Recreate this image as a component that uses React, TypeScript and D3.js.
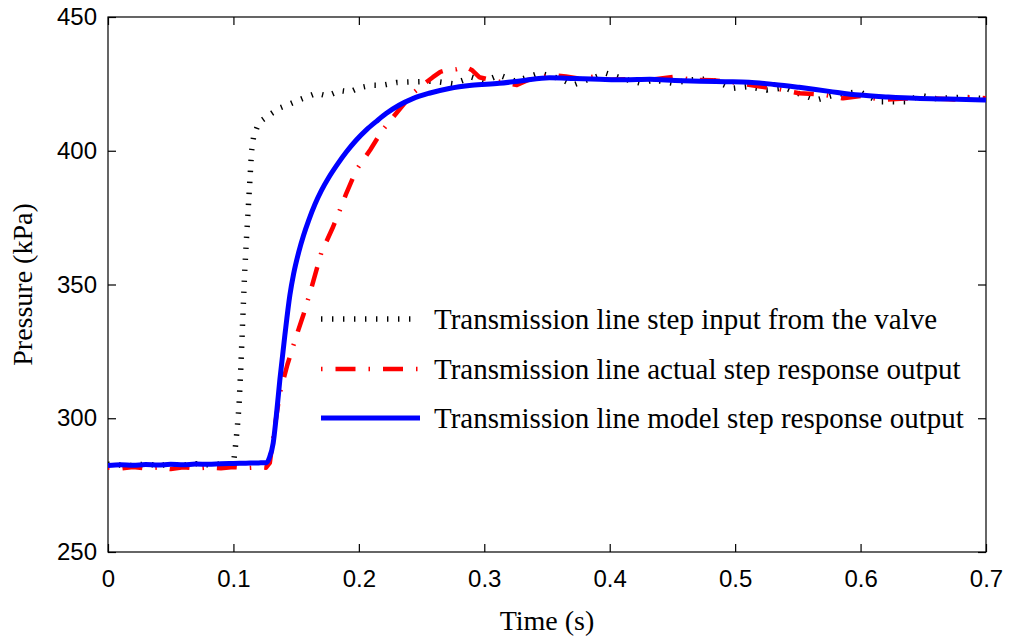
import React, { useEffect, useRef } from 'react';
import * as d3 from 'd3';

// step input from the valve (black dotted)
const inputTime = [
  0, 0.01, 0.02, 0.03, 0.04, 0.05, 0.06, 0.07, 0.08, 0.09, 0.1,
  0.1015, 0.103, 0.1045, 0.106, 0.1075, 0.109, 0.1105, 0.112, 0.1135, 0.1145,
  0.116, 0.119, 0.123, 0.129, 0.137, 0.145, 0.155, 0.166, 0.175, 0.185,
  0.193, 0.2, 0.21, 0.219, 0.23, 0.246, 0.26, 0.275, 0.29, 0.3,
  0.312, 0.325, 0.344, 0.36, 0.371, 0.385, 0.397, 0.41, 0.425, 0.435,
  0.45, 0.465, 0.48, 0.498, 0.51, 0.525, 0.54, 0.55, 0.565, 0.58,
  0.599, 0.615, 0.637, 0.647, 0.66, 0.68, 0.7,
];
const inputPressure = [
  282.8, 282.5, 282.3, 282.9, 282.4, 282.7, 282.5, 283, 282.6, 282.9, 283,
  289, 296, 305, 320, 338, 355, 368, 380, 392, 400,
  405, 409, 411.5, 413.5, 416, 417.5, 419.5, 421.5, 420.5, 422.5,
  422, 423.5, 424.5, 424.5, 425.5, 425.8, 426, 425, 427.5, 426,
  428.3, 426, 429, 427, 424.6, 427, 429, 427, 425.2, 426.5,
  425.2, 426.5, 426.8, 423.3, 424, 422.7, 423.5, 421.5, 419, 421,
  422.1, 418.3, 418.3, 420.8, 419.5, 420, 419.5,
];

// actual step response output (red dash-dot)
const actualTime = [
  0, 0.01, 0.02, 0.03, 0.04, 0.05, 0.06, 0.07, 0.08, 0.09, 0.1, 0.11, 0.12, 0.126,
  0.129, 0.1315, 0.134, 0.137, 0.143, 0.15, 0.156, 0.161, 0.17, 0.1795, 0.185,
  0.19, 0.198, 0.209, 0.219, 0.23, 0.243, 0.252, 0.259, 0.265, 0.27,
  0.278, 0.285, 0.29, 0.296, 0.305, 0.315, 0.326, 0.335, 0.345, 0.355,
  0.365, 0.375, 0.387, 0.4, 0.415, 0.43, 0.453, 0.465, 0.482, 0.5,
  0.52, 0.535, 0.551, 0.57, 0.586, 0.6, 0.618, 0.635, 0.657, 0.675, 0.689, 0.7,
];
const actualPressure = [
  281.5, 281.2, 281.8, 281.3, 281.6, 281.0, 281.7, 281.2, 281.6, 281.3, 281.8, 281.4, 281.7, 281.5,
  283.3, 292, 300, 309.4, 320, 330.5, 339, 346.8, 361.8, 371.6, 378,
  384.1, 392.8, 400.3, 407.8, 414.1, 421.5, 425, 427.5, 429.5, 430.2,
  430.5, 431.4, 430.2, 427.5, 426.5, 425.5, 424.6, 426.5, 427.5, 428.3,
  427.8, 427, 427.7, 426.5, 426.8, 426.4, 427.7, 426.5, 426.4, 425.5,
  424, 423, 421.5, 421, 419.6, 420.5, 419, 419.5, 419.6, 419.2, 420.2, 419.6,
];

// model step response output (blue solid)
const modelTime = [
  0, 0.01, 0.02, 0.03, 0.04, 0.05, 0.06, 0.07, 0.08, 0.09, 0.1, 0.11, 0.12, 0.1265,
  0.1285, 0.1317, 0.134, 0.137, 0.141, 0.145, 0.148, 0.152, 0.156, 0.16, 0.165,
  0.17, 0.176, 0.183, 0.19, 0.198, 0.206, 0.214, 0.222, 0.232, 0.243,
  0.256, 0.272, 0.29, 0.312, 0.33, 0.352, 0.372, 0.392, 0.412, 0.432,
  0.452, 0.472, 0.492, 0.511, 0.531, 0.551, 0.575, 0.599, 0.622, 0.644,
  0.67, 0.7,
];
const modelPressure = [
  282.3, 282.6, 282.4, 282.7, 282.5, 282.8, 282.6, 282.9, 282.8, 283, 283.1, 283.2, 283.3, 283.4,
  285, 290.7, 300, 314.3, 331, 346, 354, 362, 368.5, 374, 380,
  385, 390, 395, 399.5, 404, 407.8, 411, 414, 417, 419.5,
  421.5, 423.3, 424.5, 425.2, 426.2, 427.3, 427, 426.7, 426.5, 426.7,
  426.3, 426, 425.8, 425.6, 424.8, 423.7, 422.2, 420.8, 420.1, 419.6,
  419.3, 419,
];

const xTicks = [0, 0.1, 0.2, 0.3, 0.4, 0.5, 0.6, 0.7];
const yTicks = [250, 300, 350, 400, 450];

const legendLabels = [
  'Transmission line step input from the valve',
  'Transmission line actual step response output',
  'Transmission line model step response output',
];

const App = () => {
  const ref = useRef<SVGSVGElement>(null);

  useEffect(() => {
    const width = 1011, height = 639;
    const margin = { top: 17, right: 25, bottom: 87, left: 108 };
    const innerW = width - margin.left - margin.right;
    const innerH = height - margin.top - margin.bottom;
    const sans = "'Liberation Sans', Arial, Helvetica, sans-serif";
    const serif = "'Liberation Serif', 'Times New Roman', serif";

    const svg = d3.select(ref.current);
    svg.selectAll('*').remove();

    const g = svg.append('g').attr('transform', `translate(${margin.left},${margin.top})`);

    const x = d3.scaleLinear().domain([0, 0.7]).range([0, innerW]);
    const y = d3.scaleLinear().domain([250, 450]).range([innerH, 0]);

    g.append('clipPath').attr('id', 'plot-clip')
      .append('rect').attr('width', innerW).attr('height', innerH);

    // axes, ticks pointing inward
    const styleAxis = (sel: any) => {
      sel.select('.domain').remove();
      sel.selectAll('.tick line').attr('stroke', '#000').attr('stroke-width', 1.2);
      sel.selectAll('.tick text').attr('fill', '#000')
        .style('font-family', sans).style('font-size', '24px');
    };

    g.append('g')
      .attr('transform', `translate(0,${innerH})`)
      .call(d3.axisBottom(x).tickValues(xTicks).tickSizeInner(-8).tickSizeOuter(0)
        .tickPadding(18).tickFormat((d: any) => d3.format('')(+d.toFixed(1))))
      .call(styleAxis);
    g.append('g')
      .call(d3.axisTop(x).tickValues(xTicks).tickSizeInner(-8).tickSizeOuter(0).tickFormat(() => ''))
      .call(styleAxis);
    g.append('g')
      .call(d3.axisLeft(y).tickValues(yTicks).tickSizeInner(-8).tickSizeOuter(0).tickPadding(11))
      .call(styleAxis);
    g.append('g')
      .attr('transform', `translate(${innerW},0)`)
      .call(d3.axisRight(y).tickValues(yTicks).tickSizeInner(-8).tickSizeOuter(0).tickFormat(() => ''))
      .call(styleAxis);

    g.append('rect')
      .attr('width', innerW).attr('height', innerH)
      .attr('fill', 'none').attr('stroke', '#000').attr('stroke-width', 1.2);

    const series = [
      { t: inputTime, p: inputPressure, color: '#000', width: 5.5, dash: '1.4 9.6', curve: d3.curveLinear },
      { t: actualTime, p: actualPressure, color: '#ff0000', width: 4.5, dash: '1.5 13 20 13', curve: d3.curveLinear },
      { t: modelTime, p: modelPressure, color: '#0000ff', width: 5, dash: null, curve: d3.curveMonotoneX },
    ];

    const plot = g.append('g').attr('clip-path', 'url(#plot-clip)');
    series.forEach(s => {
      const line = d3.line<[number, number]>()
        .curve(s.curve)
        .x(d => x(d[0]))
        .y(d => y(d[1]));
      plot.append('path')
        .datum(s.t.map((t, i) => [t, s.p[i]] as [number, number]))
        .attr('fill', 'none')
        .attr('stroke', s.color)
        .attr('stroke-width', s.width)
        .attr('stroke-dasharray', s.dash)
        .attr('stroke-linejoin', 'round')
        .attr('d', line);
    });

    // legend
    const legend = g.selectAll('.legend')
      .data(series)
      .enter()
      .append('g')
      .attr('class', 'legend')
      .attr('transform', (d, i) => `translate(0,${[302, 352, 401][i]})`);

    legend.append('line')
      .attr('x1', 213).attr('x2', 312)
      .attr('stroke', d => d.color)
      .attr('stroke-width', d => d.width)
      .attr('stroke-dasharray', d => d.dash);

    legend.append('text')
      .attr('x', 326)
      .attr('y', 10)
      .style('font-family', serif)
      .style('font-size', '29px')
      .text((d, i) => legendLabels[i]);

    // axis labels
    svg.append('text')
      .attr('x', margin.left + innerW / 2)
      .attr('y', 630)
      .attr('text-anchor', 'middle')
      .style('font-family', serif)
      .style('font-size', '28px')
      .text('Time (s)');

    svg.append('text')
      .attr('transform', `translate(32,${margin.top + innerH / 2}) rotate(-90)`)
      .attr('text-anchor', 'middle')
      .style('font-family', serif)
      .style('font-size', '28px')
      .text('Pressure (kPa)');
  }, []);

  return (
    <div>
      <svg ref={ref} width={1011} height={639}
        style={{ position: 'absolute', left: 0, top: 0, background: '#fff' }} />
    </div>
  );
};

export default App;
